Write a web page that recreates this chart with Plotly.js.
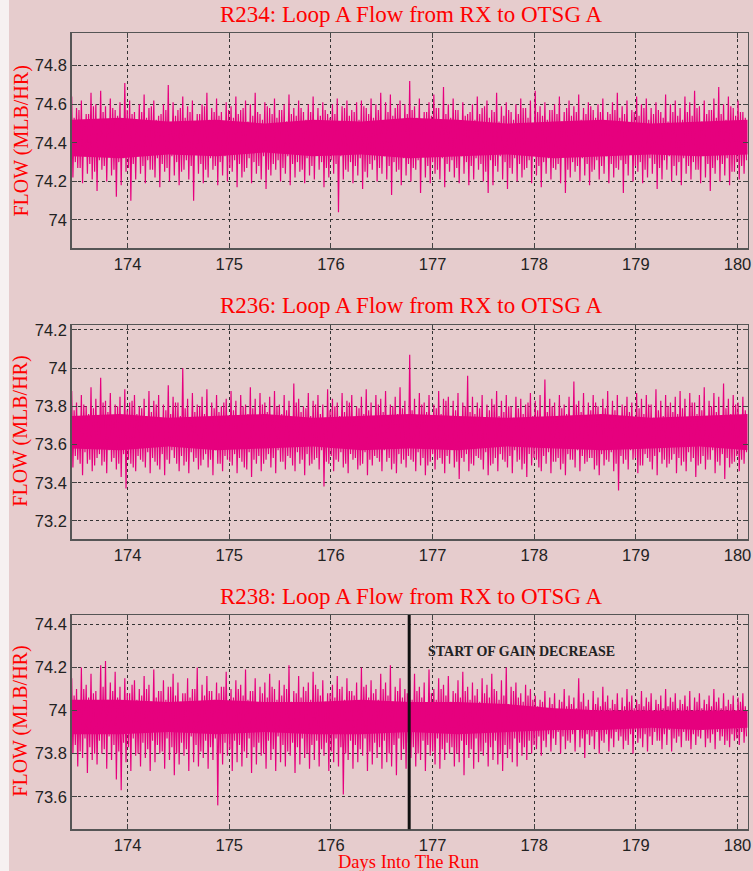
<!DOCTYPE html>
<html>
<head>
<meta charset="utf-8">
<script src="https://cdn.plot.ly/plotly-3.0.1.min.js"></script>
<style>html,body{margin:0;padding:0;background:#e6cccd;}#chart{width:753px;height:871px;}</style>
</head>
<body>
<div id="chart"></div>
<script>
// ---- data ----
const titles = ["R234: Loop A Flow from RX to OTSG A", "R236: Loop A Flow from RX to OTSG A", "R238: Loop A Flow from RX to OTSG A"];
const xTickVals = [174, 175, 176, 177, 178, 179, 180];
const dayStart = 173.45;
const dayStep = 0.0475;      // sample spacing of the peak/trough arrays (days)
const coreStep = 0.475;      // spacing of the dense-band envelope arrays (days)
const gainDecreaseDay = 176.77;
const gainDecreaseLabel = "START OF GAIN DECREASE";

// R234 large peaks / troughs
const r234Hi = [74.64,74.58,74.62,74.55,74.66,74.60,74.67,74.59,74.63,74.57,74.61,74.71,74.62,74.56,
74.60,74.65,74.58,74.62,74.54,74.60,74.70,74.61,74.57,74.64,74.59,74.62,74.55,74.60,
74.66,74.58,74.63,74.56,74.61,74.59,74.64,74.57,74.62,74.60,74.66,74.55,74.61,74.58,
74.63,74.57,74.60,74.65,74.58,74.62,74.56,74.60,74.64,74.58,74.61,74.55,74.60,74.63,
74.59,74.62,74.57,74.61,74.62,74.58,74.63,74.60,74.66,74.61,74.65,74.58,74.62,74.60,
74.72,74.59,74.63,74.56,74.61,74.65,74.58,74.69,74.60,74.63,74.57,74.61,74.55,74.60,
74.64,74.58,74.62,74.57,74.66,74.59,74.61,74.56,74.60,74.63,74.58,74.62,74.67,74.59,
74.61,74.57,74.60,74.64,74.56,74.62,74.59,74.65,74.58,74.61,74.57,74.60,74.63,74.56,
74.61,74.66,74.59,74.62,74.57,74.64,74.60,74.63,74.58,74.61,74.56,74.65,74.60,74.62,
74.58,74.64,74.61,74.67,74.59,74.62,74.57,74.63,74.69,74.60,74.64,74.58,74.62,74.56];
const r234Lo = [74.22,74.27,74.19,74.24,74.21,74.15,74.26,74.20,74.23,74.12,74.18,74.25,74.10,74.21,
74.24,74.19,74.26,74.22,74.17,74.25,74.20,74.23,74.18,74.26,74.21,74.10,74.24,74.19,
74.22,74.26,74.18,74.23,74.20,74.25,74.17,74.22,74.27,74.19,74.24,74.21,74.16,74.23,
74.26,74.20,74.24,74.18,74.22,74.25,74.19,74.23,74.21,74.26,74.17,74.22,74.24,74.04,
74.21,74.25,74.19,74.23,74.16,74.22,74.26,74.20,74.24,74.21,74.13,74.25,74.18,74.23,
74.20,74.26,74.14,74.22,74.19,74.24,74.21,74.17,74.25,74.22,74.19,74.24,74.18,74.21,
74.26,74.20,74.14,74.18,74.25,74.21,74.16,74.24,74.20,74.22,74.27,74.19,74.23,74.17,
74.24,74.21,74.26,74.19,74.14,74.22,74.25,74.20,74.23,74.18,74.26,74.21,74.24,74.19,
74.22,74.26,74.14,74.23,74.20,74.25,74.19,74.22,74.24,74.16,74.21,74.26,74.20,74.23,
74.18,74.24,74.21,74.26,74.19,74.22,74.15,74.24,74.20,74.23,74.18,74.25,74.21,74.24];
// R234 smaller peaks / troughs
const r234MidHi = [74.53,74.57,74.51,74.55,74.59,74.52,74.56,74.50,74.58,74.54,74.52,74.57,74.55,74.51,
74.56,74.53,74.59,74.52,74.55,74.57,74.50,74.54,74.58,74.53,74.56,74.51,74.55,74.59,
74.52,74.56,74.54,74.50,74.57,74.53,74.55,74.58,74.51,74.54,74.56,74.52,74.59,74.55,
74.53,74.57,74.51,74.55,74.54,74.58,74.52,74.56,74.50,74.54,74.57,74.53,74.55,74.51,
74.58,74.54,74.56,74.52,74.59,74.55,74.53,74.57,74.51,74.56,74.54,74.60,74.52,74.55,
74.57,74.53,74.50,74.56,74.54,74.58,74.52,74.55,74.53,74.57,74.51,74.54,74.56,74.52,
74.55,74.59,74.53,74.56,74.51,74.54,74.57,74.52,74.55,74.58,74.53,74.50,74.56,74.54,
74.52,74.57,74.55,74.51,74.58,74.54,74.56,74.52,74.55,74.59,74.53,74.56,74.51,74.55,
74.57,74.53,74.55,74.50,74.56,74.54,74.58,74.52,74.55,74.57,74.53,74.51,74.56,74.54,
74.52,74.56,74.54,74.58,74.51,74.55,74.57,74.53,74.55,74.52,74.59,74.54,74.56,74.53];
const r234MidLo = [74.30,74.27,74.33,74.29,74.25,74.31,74.28,74.34,74.26,74.30,74.32,74.27,74.29,74.33,
74.28,74.31,74.26,74.32,74.29,74.27,74.33,74.30,74.25,74.31,74.28,74.34,74.29,74.26,
74.32,74.28,74.30,74.33,74.27,74.31,74.29,74.25,74.32,74.30,74.28,74.33,74.26,74.29,
74.31,74.27,74.33,74.29,74.30,74.26,74.32,74.28,74.34,74.30,74.27,74.31,74.29,74.33,
74.26,74.30,74.28,74.32,74.25,74.29,74.31,74.27,74.33,74.28,74.30,74.26,74.32,74.29,
74.27,74.31,74.33,74.28,74.30,74.26,74.32,74.29,74.31,74.27,74.33,74.30,74.28,74.32,
74.29,74.25,74.31,74.28,74.33,74.30,74.27,74.32,74.29,74.26,74.31,74.34,74.28,74.30,
74.32,74.27,74.29,74.33,74.26,74.30,74.28,74.32,74.29,74.25,74.31,74.28,74.33,74.29,
74.27,74.31,74.29,74.34,74.28,74.30,74.26,74.32,74.29,74.27,74.31,74.33,74.28,74.30,
74.32,74.28,74.30,74.26,74.33,74.29,74.27,74.31,74.29,74.32,74.25,74.30,74.28,74.31];
const r234CoreHi = [74.52,74.53,74.51,74.52,74.50,74.52,74.51,74.53,74.52,74.50,74.51,74.52,74.50,74.51,74.52];
const r234CoreLo = [74.33,74.32,74.34,74.33,74.35,74.33,74.34,74.32,74.33,74.34,74.32,74.33,74.34,74.33,74.34];

// R236 large peaks / troughs
const r236Hi = [73.88,73.82,73.86,73.80,73.90,73.84,73.95,73.83,73.87,73.81,73.85,73.89,73.82,73.86,
73.80,73.84,73.88,73.83,73.86,73.81,73.91,73.85,73.82,74.00,73.84,73.87,73.81,73.85,
73.89,73.82,73.86,73.80,73.84,73.88,73.83,73.86,73.81,73.90,73.84,73.87,73.82,73.85,
73.88,73.81,73.86,73.83,73.92,73.84,73.80,73.87,73.83,73.86,73.81,73.89,73.84,73.82,
73.87,73.83,73.86,73.80,73.85,73.89,73.82,73.86,73.84,73.88,73.81,73.85,73.90,73.83,
74.07,73.84,73.87,73.82,73.86,73.81,73.88,73.84,73.85,73.83,73.87,73.82,73.96,73.85,
73.82,73.86,73.81,73.84,73.88,73.83,73.86,73.80,73.85,73.84,73.81,73.87,73.83,73.86,
73.94,73.84,73.82,73.86,73.81,73.85,73.93,73.83,73.87,73.82,73.86,73.80,73.84,73.88,
73.83,73.86,73.81,73.85,73.82,73.87,73.84,73.86,73.81,73.89,73.83,73.86,73.82,73.85,
73.88,73.84,73.87,73.82,73.86,73.90,73.83,73.87,73.85,73.92,73.84,73.86,73.82,73.85];
const r236Lo = [73.48,73.52,73.44,73.50,73.46,73.53,73.49,73.45,73.51,73.47,73.43,73.37,73.50,73.46,
73.52,73.48,73.45,73.51,73.47,73.44,73.50,73.53,73.46,73.49,73.45,73.51,73.47,73.52,
73.48,73.44,73.50,73.46,73.52,73.49,73.45,73.51,73.47,73.43,73.50,73.46,73.52,73.48,
73.45,73.51,73.47,73.53,73.46,73.50,73.44,73.49,73.52,73.47,73.38,73.50,73.46,73.51,
73.48,73.45,73.52,73.47,73.50,73.44,73.49,73.53,73.46,73.51,73.47,73.45,73.50,73.48,
73.52,73.46,73.49,73.44,73.51,73.47,73.53,73.45,73.50,73.48,73.42,73.51,73.46,73.49,
73.53,73.47,73.44,73.50,73.46,73.52,73.48,73.45,73.51,73.47,73.43,73.49,73.52,73.46,
73.50,73.45,73.51,73.47,73.44,73.52,73.48,73.46,73.50,73.53,73.47,73.44,73.49,73.51,
73.46,73.36,73.50,73.47,73.52,73.45,73.49,73.53,73.47,73.44,73.50,73.48,73.52,73.45,
73.49,73.46,73.51,73.43,73.50,73.47,73.52,73.45,73.49,73.42,73.48,73.51,73.46,73.50];
// R236 smaller peaks / troughs
const r236MidHi = [73.78,73.74,73.81,73.76,73.79,73.73,73.82,73.77,73.75,73.80,73.74,73.78,73.83,73.76,
73.79,73.75,73.77,73.81,73.74,73.78,73.76,73.82,73.75,73.79,73.73,73.77,73.80,73.76,
73.74,73.79,73.77,73.82,73.75,73.78,73.73,73.80,73.76,73.79,73.74,73.81,73.77,73.75,
73.80,73.76,73.78,73.74,73.82,73.77,73.79,73.75,73.81,73.76,73.74,73.78,73.80,73.75,
73.77,73.82,73.74,73.79,73.76,73.78,73.73,73.81,73.77,73.75,73.80,73.76,73.79,73.74,
73.78,73.75,73.81,73.77,73.74,73.79,73.76,73.83,73.75,73.78,73.74,73.80,73.77,73.76,
73.79,73.74,73.78,73.81,73.75,73.77,73.80,73.74,73.79,73.76,73.82,73.75,73.78,73.73,
73.77,73.80,73.75,73.79,73.76,73.74,73.81,73.77,73.75,73.78,73.82,73.76,73.79,73.74,
73.78,73.75,73.80,73.77,73.73,73.79,73.76,73.81,73.74,73.78,73.75,73.80,73.77,73.76,
73.79,73.74,73.82,73.76,73.78,73.75,73.80,73.77,73.74,73.79,73.76,73.81,73.75,73.78];
const r236MidLo = [73.54,73.50,73.56,73.52,73.49,73.55,73.51,73.57,73.53,73.50,73.55,73.52,73.48,73.54,
73.51,73.56,73.53,73.49,73.55,73.52,73.57,73.50,73.54,73.51,73.56,73.53,73.49,73.55,
73.52,73.57,73.50,73.54,73.51,73.55,73.53,73.48,73.56,73.52,73.54,73.50,73.55,73.53,
73.57,73.51,73.54,73.49,73.56,73.52,73.55,73.50,73.53,73.57,73.51,73.54,73.52,73.56,
73.50,73.55,73.53,73.49,73.56,73.52,73.54,73.51,73.57,73.53,73.50,73.55,73.52,73.54,
73.51,73.56,73.53,73.49,73.55,73.52,73.50,73.54,73.57,73.51,73.53,73.55,73.50,73.54,
73.52,73.56,73.49,73.53,73.55,73.51,73.54,73.57,73.52,73.50,73.55,73.53,73.48,73.54,
73.56,73.51,73.53,73.50,73.55,73.52,73.57,73.54,73.51,73.53,73.49,73.55,73.52,73.56,
73.50,73.54,73.52,73.57,73.53,73.49,73.55,73.51,73.54,73.56,73.52,73.50,73.55,73.53,
73.51,73.56,73.53,73.49,73.54,73.52,73.57,73.51,73.55,73.53,73.50,73.54,73.52,73.56];
const r236CoreHi = [73.75,73.76,73.74,73.75,73.76,73.74,73.75,73.76,73.75,73.74,73.75,73.76,73.74,73.75,73.76];
const r236CoreLo = [73.58,73.57,73.59,73.57,73.58,73.59,73.57,73.58,73.57,73.59,73.58,73.57,73.58,73.59,73.57];

// R238 large peaks / troughs
const r238Hi = [74.15,74.10,74.20,74.12,74.17,74.09,74.21,74.23,74.13,74.18,74.11,74.15,74.08,74.14,
74.10,74.16,74.12,74.19,74.09,74.14,74.11,74.17,74.13,74.08,74.15,74.10,74.20,74.12,
74.16,74.09,74.13,74.11,74.18,74.10,74.14,74.12,74.19,74.09,74.15,74.11,74.13,74.17,
74.10,74.14,74.12,74.21,74.09,74.16,74.11,74.13,74.18,74.10,74.14,74.08,74.12,74.16,
74.11,74.15,74.09,74.13,74.20,74.12,74.14,74.10,74.17,74.13,74.21,74.11,74.15,74.10,
74.14,74.17,74.11,74.13,74.19,74.10,74.15,74.12,74.16,74.09,74.14,74.18,74.11,74.13,
74.10,74.15,74.12,74.17,74.09,74.14,74.20,74.11,74.13,74.08,74.12,74.10,74.07,74.05,
74.09,74.06,74.08,74.05,74.10,74.07,74.06,74.15,74.08,74.05,74.09,74.06,74.11,74.07,
74.05,74.08,74.06,74.10,74.07,74.05,74.09,74.06,74.08,74.05,74.07,74.10,74.06,74.08,
74.05,74.07,74.09,74.06,74.08,74.05,74.07,74.10,74.06,74.08,74.05,74.07,74.06,74.08];
const r238Lo = [73.80,73.74,73.78,73.71,73.77,73.75,73.80,73.73,73.77,73.68,73.63,73.76,73.72,73.79,
73.74,73.78,73.72,73.76,73.80,73.73,73.77,73.70,73.75,73.79,73.72,73.76,73.74,73.78,
73.73,73.77,73.56,73.75,73.79,73.72,73.76,73.74,73.78,73.71,73.75,73.79,73.73,73.77,
73.72,73.76,73.74,73.79,73.71,73.75,73.78,73.73,73.77,73.74,73.79,73.72,73.76,73.74,
73.61,73.77,73.73,73.76,73.79,73.72,73.75,73.78,73.73,73.76,73.74,73.70,73.77,73.73,
73.78,73.74,73.77,73.72,73.79,73.75,73.73,73.77,73.80,73.74,73.76,73.70,73.78,73.73,
73.76,73.79,73.74,73.77,73.75,73.72,73.78,73.76,73.74,73.79,73.77,73.80,73.82,73.79,
73.83,73.81,73.84,73.80,73.82,73.85,73.81,73.83,73.78,73.84,73.82,73.80,73.85,73.81,
73.83,73.86,73.82,73.84,73.80,73.85,73.83,73.81,73.84,73.86,73.82,73.84,73.81,73.85,
73.83,73.86,73.82,73.84,73.87,73.83,73.85,73.82,73.86,73.84,73.83,73.86,73.84,73.85];
// R238 smaller peaks / troughs
const r238MidHi = [74.07,74.04,74.10,74.06,74.08,74.03,74.11,74.05,74.09,74.06,74.04,74.08,74.12,74.05,
74.07,74.10,74.04,74.06,74.09,74.05,74.11,74.07,74.04,74.08,74.06,74.10,74.03,74.07,
74.09,74.05,74.08,74.11,74.04,74.06,74.10,74.07,74.05,74.09,74.03,74.08,74.06,74.11,
74.05,74.07,74.10,74.04,74.08,74.06,74.09,74.05,74.12,74.07,74.04,74.08,74.06,74.10,
74.05,74.09,74.07,74.04,74.11,74.06,74.08,74.05,74.10,74.07,74.04,74.09,74.06,74.08,
74.05,74.09,74.06,74.03,74.08,74.05,74.10,74.07,74.04,74.08,74.06,74.09,74.05,74.07,
74.04,74.08,74.06,74.10,74.05,74.07,74.03,74.09,74.06,74.04,74.07,74.05,74.02,74.04,
74.01,74.03,74.00,74.04,74.02,74.03,74.01,74.04,74.02,74.00,74.03,74.02,74.04,74.01,
74.03,74.00,74.02,74.04,74.01,74.03,74.02,74.04,74.00,74.03,74.01,74.02,74.04,74.01,
74.03,74.02,74.00,74.04,74.01,74.03,74.02,74.04,74.01,74.02,74.03,74.00,74.04,74.02];
const r238MidLo = [73.84,73.81,73.87,73.83,73.80,73.86,73.82,73.88,73.84,73.81,73.85,73.83,73.87,73.80,
73.85,73.82,73.86,73.84,73.81,73.87,73.83,73.80,73.85,73.82,73.88,73.84,73.81,73.86,
73.83,73.87,73.80,73.85,73.82,73.86,73.84,73.81,73.87,73.83,73.85,73.80,73.86,73.82,
73.88,73.84,73.81,73.85,73.83,73.87,73.80,73.84,73.86,73.82,73.85,73.81,73.87,73.83,
73.80,73.86,73.84,73.82,73.87,73.81,73.85,73.83,73.86,73.80,73.84,73.87,73.82,73.85,
73.83,73.80,73.86,73.84,73.81,73.87,73.82,73.85,73.83,73.80,73.86,73.84,73.82,73.87,
73.81,73.85,73.83,73.86,73.80,73.84,73.82,73.87,73.85,73.83,73.86,73.84,73.88,73.86,
73.89,73.87,73.90,73.88,73.86,73.89,73.91,73.87,73.89,73.88,73.90,73.86,73.89,73.87,
73.90,73.88,73.86,73.89,73.91,73.87,73.89,73.88,73.90,73.86,73.89,73.91,73.87,73.88,
73.90,73.86,73.89,73.88,73.91,73.87,73.89,73.90,73.88,73.86,73.89,73.87,73.90,73.88];
const r238CoreHi = [74.05,74.05,74.04,74.05,74.04,74.04,74.05,74.04,74.04,74.03,74.01,74.00,74.00,74.00,74.00];
const r238CoreLo = [73.89,73.89,73.90,73.89,73.90,73.89,73.89,73.90,73.89,73.90,73.91,73.91,73.92,73.91,73.92];

// ---- build traces ----
const LINE = '#e6007e';
const panels = [
  {hi: r234Hi, lo: r234Lo, mHi: r234MidHi, mLo: r234MidLo, cHi: r234CoreHi, cLo: r234CoreLo, xa: 'x', ya: 'y'},
  {hi: r236Hi, lo: r236Lo, mHi: r236MidHi, mLo: r236MidLo, cHi: r236CoreHi, cLo: r236CoreLo, xa: 'x2', ya: 'y2'},
  {hi: r238Hi, lo: r238Lo, mHi: r238MidHi, mLo: r238MidLo, cHi: r238CoreHi, cLo: r238CoreLo, xa: 'x3', ya: 'y3'}
];
const traces = [];
panels.forEach(p => {
  const cx = p.cHi.map((_, i) => dayStart + i * coreStep);
  traces.push({
    type: 'scatter', mode: 'lines', xaxis: p.xa, yaxis: p.ya,
    x: cx.concat(cx.slice().reverse()),
    y: p.cHi.concat(p.cLo.slice().reverse()),
    fill: 'toself', fillcolor: LINE, line: {width: 0, color: LINE},
    hoverinfo: 'skip', showlegend: false
  });
  const xs = [], ys = [];
  p.hi.forEach((v, i) => {
    const t = dayStart + i * dayStep;
    xs.push(t); ys.push(v);
    xs.push(t + 0.25 * dayStep); ys.push(p.lo[i]);
    xs.push(t + 0.5 * dayStep); ys.push(p.mHi[i]);
    xs.push(t + 0.75 * dayStep); ys.push(p.mLo[i]);
  });
  traces.push({
    type: 'scatter', mode: 'lines', xaxis: p.xa, yaxis: p.ya,
    x: xs, y: ys, line: {width: 1.2, color: LINE}, showlegend: false
  });
});

// ---- layout ----
const W = 753, H = 871;
const xDom = [71.7 / W, 747.7 / W];
const tickFont = {family: 'Liberation Sans, Arial, sans-serif', size: 16.5, color: '#222'};
function xAxis(anchor) {
  return {
    domain: xDom, anchor: anchor, range: [173.45, 180.1], tickvals: xTickVals,
    ticks: 'inside', ticklen: 5, tickcolor: '#444', showline: true, mirror: 'ticks',
    linecolor: '#555', linewidth: 1.5, showgrid: true, gridcolor: '#333', griddash: 'dot',
    gridwidth: 1, zeroline: false, tickfont: tickFont
  };
}
function yAxis(anchor, top, bottom, range, tick0) {
  return {
    domain: [1 - bottom / H, 1 - top / H], anchor: anchor, range: range, tick0: tick0, dtick: 0.2,
    ticks: 'inside', ticklen: 5, tickcolor: '#444', showline: true, mirror: 'ticks',
    linecolor: '#555', linewidth: 1.5, showgrid: true, gridcolor: '#333', griddash: 'dot',
    gridwidth: 1, zeroline: false, tickfont: tickFont
  };
}
const serifRed = size => ({family: 'Liberation Serif, Times New Roman, serif', size: size, color: '#ff0000'});
const titleY = [14, 305, 596];
const ytY = [141.5, 431.7, 721.7];
const annotations = [];
titles.forEach((t, i) => {
  annotations.push({text: t, xref: 'paper', yref: 'paper', x: 411 / W, y: 1 - titleY[i] / H,
    xanchor: 'center', yanchor: 'middle', showarrow: false, font: serifRed(23)});
  annotations.push({text: 'FLOW (MLB/HR)', xref: 'paper', yref: 'paper', x: 21 / W, y: 1 - ytY[i] / H,
    xanchor: 'center', yanchor: 'middle', textangle: -90, showarrow: false, font: serifRed(20)});
});
annotations.push({text: 'Days Into The Run', xref: 'paper', yref: 'paper', x: 409 / W, y: 1 - 862 / H,
  xanchor: 'center', yanchor: 'middle', showarrow: false, font: serifRed(18.5)});
annotations.push({text: gainDecreaseLabel, xref: 'x3', yref: 'y3', x: 176.94, y: 74.273,
  xanchor: 'left', yanchor: 'middle', showarrow: false,
  font: {family: 'Liberation Serif, Times New Roman, serif', size: 14, color: '#222', weight: 'bold'}});

const layout = {
  width: W, height: H, margin: {l: 0, r: 0, t: 0, b: 0},
  paper_bgcolor: '#e6cccd', plot_bgcolor: '#e6cccd', showlegend: false,
  xaxis: xAxis('y'), xaxis2: xAxis('y2'), xaxis3: xAxis('y3'),
  yaxis: yAxis('x', 33.3, 248.3, [73.853, 74.968], 74),
  yaxis2: yAxis('x2', 325, 539.3, [73.104, 74.226], 73.2),
  yaxis3: yAxis('x3', 615, 829.3, [73.449, 74.443], 73.6),
  annotations: annotations,
  shapes: [
    {type: 'rect', xref: 'paper', yref: 'paper', x0: 0, x1: 9 / W, y0: 0, y1: 1,
     fillcolor: '#f6f1f1', line: {width: 0}, layer: 'below'},
    {type: 'line', xref: 'x3', yref: 'y3 domain', x0: gainDecreaseDay, x1: gainDecreaseDay, y0: 0, y1: 1,
     line: {color: '#111', width: 3}}
  ]
};
Plotly.newPlot('chart', traces, layout, {staticPlot: true, displayModeBar: false});
</script>
</body>
</html>
